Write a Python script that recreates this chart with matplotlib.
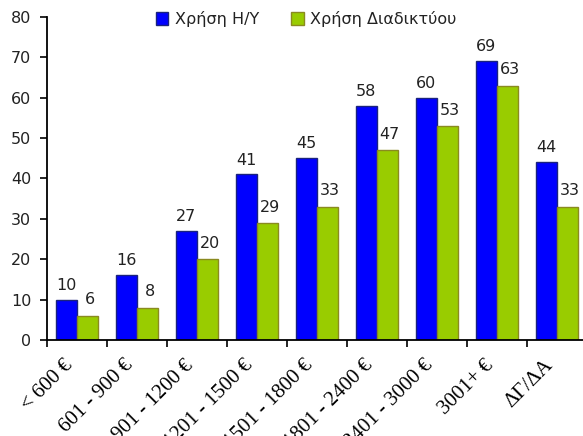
import matplotlib
matplotlib.use("Agg")
import matplotlib.pyplot as plt
import matplotlib.transforms as mtransforms
import numpy as np
from matplotlib.patches import Patch

categories = ["< 600 €", "601 - 900 €", "901 - 1200 €", "1201 - 1500 €", "1501 - 1800 €",
              "1801 - 2400 €", "2401 - 3000 €", "3001+ €", "ΔΓ/ΔΑ"]
pc_use = [10, 16, 27, 41, 45, 58, 60, 69, 44]
internet_use = [6, 8, 20, 29, 33, 47, 53, 63, 33]
series_names = ["Χρήση Η/Υ", "Χρήση Διαδικτύου"]
yticks = [0, 10, 20, 30, 40, 50, 60, 70, 80]

plt.rcParams['font.family'] = ['DejaVu Sans']
fs = 11.5
txt_color = '#222222'

fig = plt.figure(figsize=(5.83, 4.36), dpi=100)
ax = fig.add_axes([46.5 / 583, 96 / 436, 540 / 583, 323 / 436])

x = np.arange(len(categories))
w = 0.35
blue = '#0000FF'
green = '#99CC00'
ax.bar(x - w / 2, pc_use, w, color=blue, edgecolor='#1a237e', linewidth=1.0)
ax.bar(x + w / 2, internet_use, w, color=green, edgecolor='#8a8a20', linewidth=1.0)

for xi, v in zip(x, pc_use):
    ax.annotate(str(v), (xi - w / 2, v), xytext=(0, 5), textcoords='offset points',
                ha='center', va='bottom', fontsize=fs, color=txt_color)
for xi, v in zip(x, internet_use):
    ax.annotate(str(v), (xi + w / 2, v), xytext=(2, 6), textcoords='offset points',
                ha='center', va='bottom', fontsize=fs, color=txt_color)

ax.set_xlim(-0.5, len(categories) - 0.5)
ax.set_ylim(0, 80)
ax.set_yticks(yticks)
ax.tick_params(axis='y', direction='out', length=5, width=1.2, labelsize=fs,
               colors='black', labelcolor=txt_color, pad=6)

ax.set_xticks(np.arange(len(categories) + 1) - 0.5)
ax.set_xticklabels([])
ax.tick_params(axis='x', which='major', direction='out', length=5, width=1.2, colors='black')
ax.set_xticks(x, minor=True)
ax.set_xticklabels(categories, minor=True, rotation=45, ha='right', va='top',
                   rotation_mode='anchor', fontsize=15,
                   family=['Liberation Serif', 'DejaVu Serif'], color='black')
ax.tick_params(axis='x', which='minor', length=0, pad=0)
offset = mtransforms.ScaledTranslation(-0.13, -0.16, fig.dpi_scale_trans)
for lab in ax.get_xticklabels(minor=True):
    lab.set_transform(lab.get_transform() + offset)

for s in ['top', 'right']:
    ax.spines[s].set_visible(False)
ax.spines['left'].set_linewidth(1.3)
ax.spines['bottom'].set_linewidth(1.3)

handles = [Patch(facecolor=blue, edgecolor='#1a237e'), Patch(facecolor=green, edgecolor='#8a8a20')]
fig.legend(handles, series_names, loc='center', bbox_to_anchor=(306 / 583, 1 - 19 / 436),
           ncol=2, frameon=False, fontsize=fs, handlelength=0.8, handleheight=0.8,
           handletextpad=0.4, columnspacing=2.0, labelcolor=txt_color)

fig.savefig("out.png", dpi=100)
